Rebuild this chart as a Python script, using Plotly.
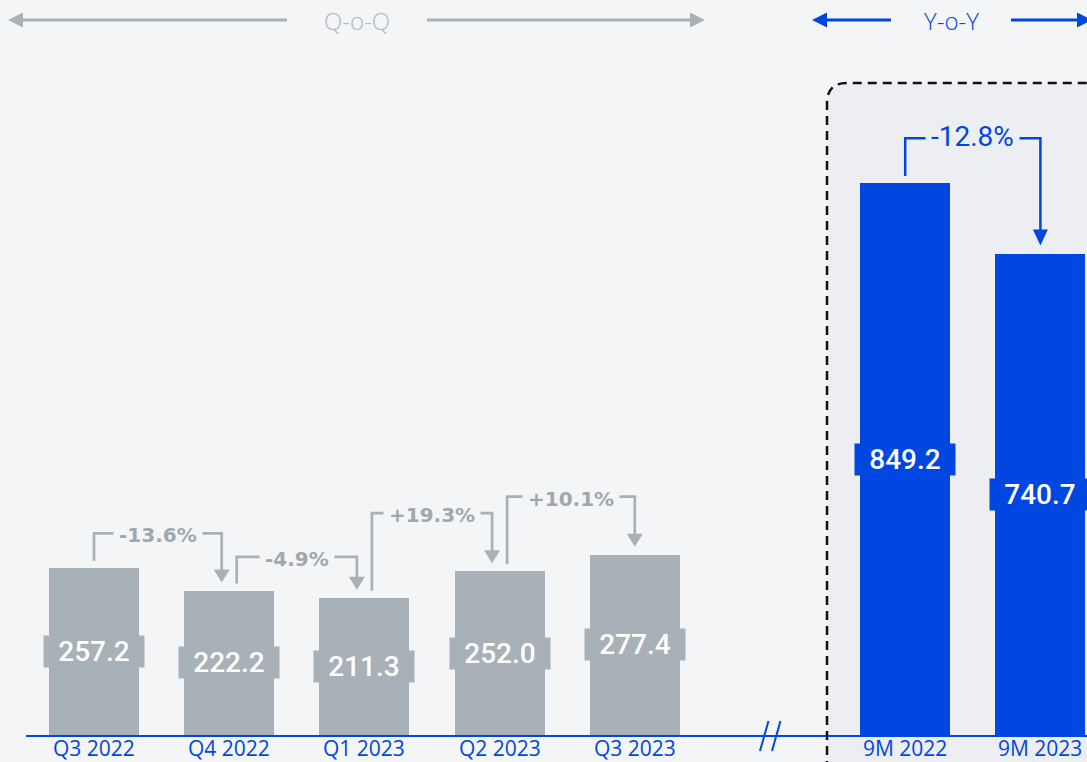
import plotly.graph_objects as go

# ---- data ---------------------------------------------------------------
quarter_labels = ["Q3 2022", "Q4 2022", "Q1 2023", "Q2 2023", "Q3 2023"]
quarter_values = [257.2, 222.2, 211.3, 252.0, 277.4]
qoq_changes = ["-13.6%", "-4.9%", "+19.3%", "+10.1%"]

ytd_labels = ["9M 2022", "9M 2023"]
ytd_values = [849.2, 740.7]
yoy_change = "-12.8%"

# ---- style --------------------------------------------------------------
BG = "#f4f5f7"
BOX_BG = "#edeef1"
GREY = "#a8b1b7"
GREY_TEXT = "#9fa8ae"
HEADER_GREY = "#b0b8bd"
BLUE = "#0046e0"
W, H = 1087, 762

# pixel <-> data scale of the canvas
PX_PER_X = 135.2      # pixels per category slot
PX_PER_Y = 0.65       # pixels per value unit
X0_PX = 94            # pixel position of the first category
BASE_PX = 735         # pixel row of the value axis zero


def xpx(p):
    return (p - X0_PX) / PX_PER_X


def ypx(p):
    return (BASE_PX - p) / PX_PER_Y


def dx(p):
    return p / PX_PER_X


def dy(p):
    return p / PX_PER_Y


quarter_x = list(range(len(quarter_values)))
ytd_x = [len(quarter_values) + 1 + i for i in range(len(ytd_values))]
BAR_W = dx(90)

fig = go.Figure()
fig.add_trace(go.Bar(x=quarter_x, y=quarter_values, width=BAR_W,
                     marker=dict(color=GREY, line=dict(width=0)),
                     hoverinfo="skip", showlegend=False))
fig.add_trace(go.Bar(x=ytd_x, y=ytd_values, width=BAR_W,
                     marker=dict(color=BLUE, line=dict(width=0)),
                     hoverinfo="skip", showlegend=False))

shapes = []
annotations = []

# year-to-date panel: fill, then baseline, then dashed border
bx0, by0 = xpx(827), ypx(83)
bx1, by1 = xpx(1200), ypx(800)
rx, ry = dx(20), dy(20)
box_path = (f"M {bx0},{by1} L {bx0},{by0 - ry} Q {bx0},{by0} {bx0 + rx},{by0} "
            f"L {bx1},{by0} L {bx1},{by1} Z")
shapes.append(dict(type="path", path=box_path, xref="x", yref="y",
                   fillcolor=BOX_BG, line=dict(width=0), layer="below"))

# value axis baseline and the axis break
shapes.append(dict(type="line", xref="x", yref="y", x0=xpx(26), x1=xpx(1100),
                   y0=ypx(736), y1=ypx(736), line=dict(color=BLUE, width=2),
                   layer="above"))
for sx in (760, 772):
    shapes.append(dict(type="line", xref="x", yref="y", x0=xpx(sx), y0=ypx(751),
                       x1=xpx(sx + 8.5), y1=ypx(721),
                       line=dict(color=BLUE, width=2), layer="above"))

shapes.append(dict(type="path", path=box_path, xref="x", yref="y",
                   fillcolor="rgba(0,0,0,0)",
                   line=dict(color="#111111", width=2.5, dash="9px,6px"),
                   layer="above"))


def arrow_head(x, y_tip, half_w, length, color, direction="down"):
    if direction == "down":
        p = (f"M {x - dx(half_w)},{y_tip + dy(length)} L {x + dx(half_w)},{y_tip + dy(length)} "
             f"L {x},{y_tip} Z")
    elif direction == "left":
        p = (f"M {x},{y_tip} L {x + dx(length)},{y_tip + dy(half_w)} "
             f"L {x + dx(length)},{y_tip - dy(half_w)} Z")
    else:
        p = (f"M {x},{y_tip} L {x - dx(length)},{y_tip + dy(half_w)} "
             f"L {x - dx(length)},{y_tip - dy(half_w)} Z")
    return dict(type="path", path=p, xref="x", yref="y", fillcolor=color,
                line=dict(width=0), layer="above")


def bracket(x_from, v_from, x_to, v_to, rise_px, text, color, lw, font,
            label_bg, head_w, head_len, text_shift):
    y_start = v_from + dy(7)
    y_level = max(v_from, v_to) + dy(rise_px)
    y_tip = v_to + dy(8)
    path = (f"M {x_from},{y_start} L {x_from},{y_level} L {x_to},{y_level} "
            f"L {x_to},{y_tip + dy(head_len) * 0.6}")
    shapes.append(dict(type="path", path=path, xref="x", yref="y",
                       line=dict(color=color, width=lw), layer="above"))
    shapes.append(arrow_head(x_to, y_tip, head_w / 2, head_len, color))
    annotations.append(dict(x=(x_from + x_to) / 2, y=y_level, xref="x", yref="y",
                            text=text, showarrow=False, font=font,
                            bgcolor=label_bg, borderpad=5, yshift=text_shift,
                            xanchor="center", yanchor="middle"))


# quarter-on-quarter connectors
rises = [34.5, 33.6, 58, 58]
side = dx(7.5)
pct_font = dict(family="DejaVu Sans", size=20, color=GREY_TEXT)
for i, txt in enumerate(qoq_changes):
    x_from = quarter_x[i] + (side if i > 0 else 0)
    x_to = quarter_x[i + 1] - (side if i + 1 < len(quarter_x) - 1 else 0)
    bracket(x_from, quarter_values[i], x_to, quarter_values[i + 1], rises[i],
            f"<b>{txt}</b>", GREY, 2.7, pct_font, BG, 16, 13, -2)

# year-on-year connector
bracket(ytd_x[0], ytd_values[0], ytd_x[1], ytd_values[1], 44.7, yoy_change,
        BLUE, 2.5, dict(family="Roboto", size=28, color=BLUE), BOX_BG, 15, 16, 2)

# value labels sitting on the bars
for xs, vs, col in ((quarter_x, quarter_values, GREY), (ytd_x, ytd_values, BLUE)):
    for x, v in zip(xs, vs):
        annotations.append(dict(x=x, y=v / 2, xref="x", yref="y",
                                text=f"{v:.1f}", showarrow=False,
                                font=dict(family="Roboto", size=28, color="white",
                                          weight=500),
                                bgcolor=col, borderpad=0, width=100, height=31,
                                xanchor="center", yanchor="middle"))

# category labels under the baseline
for xs, labs in ((quarter_x, quarter_labels), (ytd_x, ytd_labels)):
    for x, lab in zip(xs, labs):
        annotations.append(dict(x=x, y=ypx(748), xref="x", yref="y", text=lab,
                                showarrow=False,
                                font=dict(family="Open Sans", size=21, color=BLUE),
                                xanchor="center", yanchor="middle"))

# header arrows
HEAD_Y = ypx(20)
for (xa, xb, tip_left, tip_right, color, label, cx) in (
        (8, 287, True, False, GREY, "Q-o-Q", 357),
        (427, 705, False, True, GREY, None, None),
        (812, 891, True, False, BLUE, "Y-o-Y", 951),
        (1011, 1092, False, True, BLUE, None, None)):
    x_a = xpx(xa + (12 if tip_left else 0))
    x_b = xpx(xb - (12 if tip_right else 0))
    shapes.append(dict(type="line", xref="x", yref="y", x0=x_a, x1=x_b,
                       y0=HEAD_Y, y1=HEAD_Y, line=dict(color=color, width=3),
                       layer="above"))
    if tip_left:
        shapes.append(arrow_head(xpx(xa), HEAD_Y, 7.5, 15, color, "left"))
    if tip_right:
        shapes.append(arrow_head(xpx(xb), HEAD_Y, 7.5, 15, color, "right"))
    if label:
        annotations.append(dict(x=xpx(cx), y=HEAD_Y, xref="x", yref="y",
                                text=label, showarrow=False,
                                font=dict(family="Open Sans", size=24, weight=300,
                                          color=HEADER_GREY if color == GREY else BLUE),
                                xanchor="center", yanchor="middle"))

fig.update_layout(
    width=W, height=H,
    margin=dict(l=0, r=0, t=0, b=0),
    paper_bgcolor=BG, plot_bgcolor=BG,
    bargap=0,
    xaxis=dict(range=[xpx(0), xpx(W)], visible=False, fixedrange=True),
    yaxis=dict(range=[ypx(H), ypx(0)], visible=False, fixedrange=True),
    shapes=shapes, annotations=annotations,
)

fig.write_html("out.html", config={"displayModeBar": False})
